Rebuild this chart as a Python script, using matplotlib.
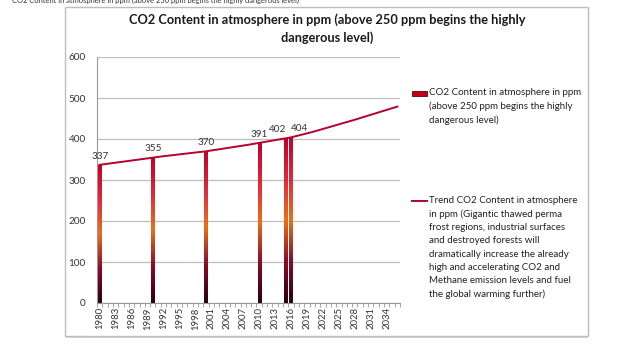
import numpy as np
import matplotlib.pyplot as plt
from matplotlib.colors import LinearSegmentedColormap
from matplotlib.patches import Rectangle
from matplotlib.lines import Line2D

plt.rcParams['font.family'] = ['Lato', 'DejaVu Sans']

# data
bar_years = [1980, 1990, 2000, 2010, 2015, 2016]
bar_values = [337, 355, 370, 391, 402, 404]

trend_years = [1980, 1984, 1988, 1992, 1996, 2000, 2004, 2008, 2012, 2016,
               2020, 2024, 2028, 2032, 2036]
trend_values = [337, 344, 351, 358, 364, 370, 378, 386, 395, 404,
                417, 432, 447, 463, 479]

tick_years = list(range(1980, 2035, 3))
y_ticks = [0, 100, 200, 300, 400, 500, 600]

title = 'CO2 Content in atmosphere in ppm (above 250 ppm begins the highly\ndangerous level)'
bar_label = 'CO2 Content in atmosphere in ppm\n(above 250 ppm begins the highly\ndangerous level)'
trend_label = ('Trend CO2 Content in atmosphere\nin ppm (Gigantic thawed perma\n'
               'frost regions, industrial surfaces\nand destroyed forests will\n'
               'dramatically increase the already\nhigh and accelerating CO2 and\n'
               'Methane emission levels and fuel\nthe global warming further)')

W, H = 640, 360
fig = plt.figure(figsize=(6.4, 3.6), dpi=100)

def fx(px):
    return px / W

def fy(py):
    return 1 - py / H

# chart frame
fig.patches.append(Rectangle((fx(65), fy(336)), fx(588) - fx(65), fy(7) - fy(336),
                             transform=fig.transFigure, fill=False,
                             edgecolor='#bdbdbd', linewidth=1.0))
fig.patches.append(Rectangle((fx(66), fy(338)), fx(588) - fx(66), 1.5 / H,
                             transform=fig.transFigure, color='#d0d0d0', linewidth=0))

# small caption cut off at the top
fig.text(fx(12), fy(0.5), 'CO2 Content in atmosphere in ppm (above 250 ppm begins the highly dangerous level)',
         fontsize=5.4, va='center', ha='left', color='#333333')

fig.text(fx(327), fy(13), title, fontsize=9.2, fontweight='bold', ha='center', va='top',
         linespacing=1.5, color='#1a1a1a')

ax = fig.add_axes([fx(97), fy(303), fx(400) - fx(97), fy(57) - fy(303)])

ax.set_yticks(y_ticks)
ax.yaxis.grid(True, color='#bfbfbf', linewidth=0.9)
ax.set_axisbelow(True)
ax.set_xticks(tick_years)
ax.set_xticks(np.arange(1979.5, 2037, 1), minor=True)
ax.tick_params(axis='x', which='major', length=0, labelsize=6.8, rotation=90, pad=3, labelcolor='#333333')
ax.tick_params(axis='x', which='minor', length=3, color='#999999', width=0.6)
ax.tick_params(axis='y', length=0, labelsize=7.2, pad=8, labelcolor='#333333')
for s in ['top', 'right']:
    ax.spines[s].set_visible(False)
ax.spines['left'].set_color('#999999')
ax.spines['bottom'].set_color('#999999')

cmap = LinearSegmentedColormap.from_list('bar', [
    (0.0, '#2a0012'), (0.25, '#8a0a28'), (0.5, '#e8701c'),
    (0.75, '#e0283c'), (1.0, '#c0002a')])
grad = np.linspace(0, 1, 256).reshape(-1, 1)

bars = ax.bar(bar_years, bar_values, width=0.6, color='none', edgecolor='none', zorder=2)
for b in bars:
    x0, w, h = b.get_x(), b.get_width(), b.get_height()
    im = ax.imshow(grad, cmap=cmap, origin='lower', aspect='auto',
                   extent=[x0, x0 + w, 0, h], zorder=2)
    im.set_clip_path(b)
ax.set_xlim(1979.5, 2036.5)
ax.set_ylim(0, 600)

ax.plot(trend_years, trend_values, color='#b8002e', linewidth=1.4, zorder=3)

for i, (yr, v) in enumerate(zip(bar_years, bar_values)):
    dx = 0
    if i + 1 < len(bar_years) and bar_years[i + 1] - yr < 3:
        dx = -6
    elif i > 0 and yr - bar_years[i - 1] < 3:
        dx = 6
    ax.annotate(str(v), (yr, v), xytext=(dx, 3), textcoords='offset points',
                ha='center', va='bottom', fontsize=7.2, color='#333333', zorder=4)

# legend
fig.patches.append(Rectangle((fx(412), fy(96)), fx(15), 5 / H, transform=fig.transFigure,
                             facecolor='#c00018', edgecolor='#600010', linewidth=0.6))
fig.text(fx(429), fy(88), bar_label, fontsize=7, ha='left', va='top', linespacing=1.6,
         color='#222222')
fig.lines.append(Line2D([fx(412), fx(427)], [fy(201), fy(201)], transform=fig.transFigure,
                        color='#b8002e', linewidth=1.4))
fig.text(fx(429), fy(196), trend_label, fontsize=7, ha='left', va='top', linespacing=1.6,
         color='#222222')

fig.savefig('out.png', dpi=100)
